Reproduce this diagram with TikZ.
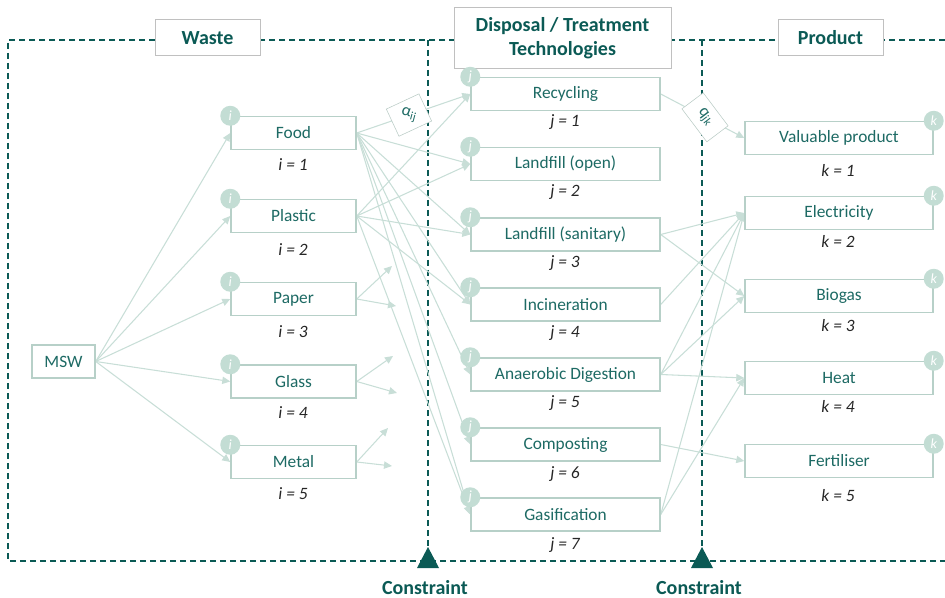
\documentclass[tikz,border=0pt]{standalone}
\usepackage{fontspec}
\setmainfont{Carlito}
\usepackage{xcolor}
\usepackage{graphicx}
\usetikzlibrary{arrows.meta, positioning, backgrounds}

\definecolor{darkteal}{HTML}{0B5A55}
\definecolor{boxtext}{HTML}{1D6A64}
\definecolor{boxline}{HTML}{B7D0C8}
\definecolor{flowcol}{HTML}{C8DED7}
\definecolor{idxfill}{HTML}{C3DDD4}
\definecolor{titleline}{HTML}{C0C0C0}

\tikzset{
  box/.style={draw=boxline, line width=1.1pt, fill=white, text=boxtext, font=\fontsize{13}{15}\selectfont, minimum height=24.75pt, inner sep=0pt},
  wastebox/.style={box, minimum width=93.75pt},
  techbox/.style={box, minimum width=141.75pt},
  prodbox/.style={box, minimum width=141pt},
  titlebox/.style={draw=titleline, line width=0.75pt, fill=white, text=darkteal, font=\fontsize{15}{18}\selectfont\bfseries, align=center, inner sep=0pt},
  idx/.style={font=\fontsize{13}{15}\selectfont\itshape, text=black!85},
  badge/.style={circle, fill=idxfill, text=white, minimum size=15pt, inner sep=0pt, font=\fontsize{10.5}{10.5}\selectfont\itshape},
  flow/.style={draw=flowcol, line width=0.8pt, -{Triangle[length=6pt, width=5.5pt]}},
  frame/.style={draw=darkteal, line width=1.1pt, dash pattern=on 4.5pt off 3pt},
  factor/.style={draw=flowcol!80!gray, line width=0.4pt, fill=white, inner sep=0pt, text=boxtext, font=\fontsize{12.5}{12.5}\selectfont},
  constraint/.style={text=darkteal, font=\fontsize{15}{18}\selectfont\bfseries}
}

\begin{document}
\begin{tikzpicture}[x=0.75pt, y=-0.75pt]
\useasboundingbox (0,0) rectangle (945,598);

% titles
\node[titlebox, minimum width=78.75pt, minimum height=27pt] (twaste) at (207.5,38) {Waste};
\node[titlebox, minimum width=162.75pt, minimum height=45.75pt] (ttech) at (562.5,38.5) {Disposal / Treatment\\Technologies};
\node[titlebox, minimum width=78.75pt, minimum height=27pt] (tprod) at (830.5,38) {Product};

% waste streams
\node[box, minimum width=47.25pt] (msw) at (63.5,361.5) {MSW};
\node[wastebox] (food) at (293.5,133) {Food};
\node[wastebox] (plastic) at (293.5,216) {Plastic};
\node[wastebox] (paper) at (293.5,299) {Paper};
\node[wastebox] (glass) at (293.5,381.5) {Glass};
\node[wastebox] (metal) at (293.5,462) {Metal};

\node[idx] (i1) at (293,165) {i = 1};
\node[idx] (i2) at (293,250) {i = 2};
\node[idx] (i3) at (293,332) {i = 3};
\node[idx] (i4) at (293,413) {i = 4};
\node[idx] (i5) at (293,494) {i = 5};

% technologies
\node[techbox] (recyc) at (565.5,94) {Recycling};
\node[techbox] (lfopen) at (565.5,164) {Landfill (open)};
\node[techbox] (lfsan) at (565.5,234.5) {Landfill (sanitary)};
\node[techbox] (incin) at (565.5,304.5) {Incineration};
\node[techbox] (anaer) at (565.5,374.5) {Anaerobic Digestion};
\node[techbox] (compost) at (565.5,444.5) {Composting};
\node[techbox] (gasif) at (565.5,514.5) {Gasification};

\node[idx] (j1) at (565,122) {j = 1};
\node[idx] (j2) at (565,192) {j = 2};
\node[idx] (j3) at (565,263) {j = 3};
\node[idx] (j4) at (565,333) {j = 4};
\node[idx] (j5) at (565,403) {j = 5};
\node[idx] (j6) at (565,474) {j = 6};
\node[idx] (j7) at (565,545) {j = 7};

% products
\node[prodbox] (valprod) at (839,138) {Valuable product};
\node[prodbox] (elec) at (839,213) {Electricity};
\node[prodbox] (biogas) at (839,296) {Biogas};
\node[prodbox] (heat) at (839,378) {Heat};
\node[prodbox] (fert) at (839,461) {Fertiliser};

\node[idx] (k1) at (838,170) {k = 1};
\node[idx] (k2) at (838,241) {k = 2};
\node[idx] (k3) at (838,326) {k = 3};
\node[idx] (k4) at (838,406) {k = 4};
\node[idx] (k5) at (838,496) {k = 5};

% loose arrow ends
\coordinate (pa1) at (392,266);
\coordinate (pa2) at (396,306);
\coordinate (gl1) at (393,356);
\coordinate (gl2) at (397,393);
\coordinate (me1) at (388,428);
\coordinate (me2) at (392,466);

\begin{scope}[on background layer]
\draw[frame] (945,40) -- (8,40) -- (8,561) -- (945,561);
\draw[frame] (428,40) -- (428,550);
\draw[frame] (702,40) -- (702,550);

\foreach \w in {food,plastic,paper,glass,metal}
  \draw[flow] (msw.east) -- (\w.west);

\draw[flow] (food.east) -- node[factor, pos=0.46, rotate=25, minimum width=27pt, minimum height=22.5pt] (aij) {\rotatebox{-40}{α\textsubscript{ij}}} (recyc.west);
\foreach \t in {lfopen,lfsan,incin,anaer,compost,gasif}
  \draw[flow] (food.east) -- (\t.west);
\foreach \t in {recyc,lfopen,lfsan,incin,gasif}
  \draw[flow] (plastic.east) -- (\t.west);

\draw[flow] (paper.east) -- (pa1);
\draw[flow] (paper.east) -- (pa2);
\draw[flow] (glass.east) -- (gl1);
\draw[flow] (glass.east) -- (gl2);
\draw[flow] (metal.east) -- (me1);
\draw[flow] (metal.east) -- (me2);

\draw[flow] (recyc.east) -- node[factor, pos=0.53, rotate=-53, minimum width=31pt, minimum height=20pt] (qjk) {q\textsubscript{jk}} (valprod.west);
\draw[flow] (lfsan.east) -- (elec.west);
\draw[flow] (lfsan.east) -- (biogas.west);
\draw[flow] (incin.east) -- (elec.west);
\draw[flow] (anaer.east) -- (elec.west);
\draw[flow] (anaer.east) -- (biogas.west);
\draw[flow] (anaer.east) -- (heat.west);
\draw[flow] (compost.east) -- (fert.west);
\draw[flow] (gasif.east) -- (elec.west);
\draw[flow] (gasif.east) -- (heat.west);
\end{scope}

% index badges
\foreach \w in {food,plastic,paper,glass,metal}
  \node[badge] (b-\w) at (\w.north west) {i};
\foreach \t in {recyc,lfopen,lfsan,incin,anaer,compost,gasif}
  \node[badge] (b-\t) at (\t.north west) {j};
\foreach \p in {valprod,elec,biogas,heat,fert}
  \node[badge] (b-\p) at (\p.north east) {k};

% constraints
\fill[darkteal, shift={(428,561)}] (-11,7) -- (11,7) -- (0,-14) -- cycle;
\fill[darkteal, shift={(702,561)}] (-11,7) -- (11,7) -- (0,-14) -- cycle;
\node[constraint] (con1) at (425,588) {Constraint};
\node[constraint] (con2) at (699,588) {Constraint};
\end{tikzpicture}
\end{document}
